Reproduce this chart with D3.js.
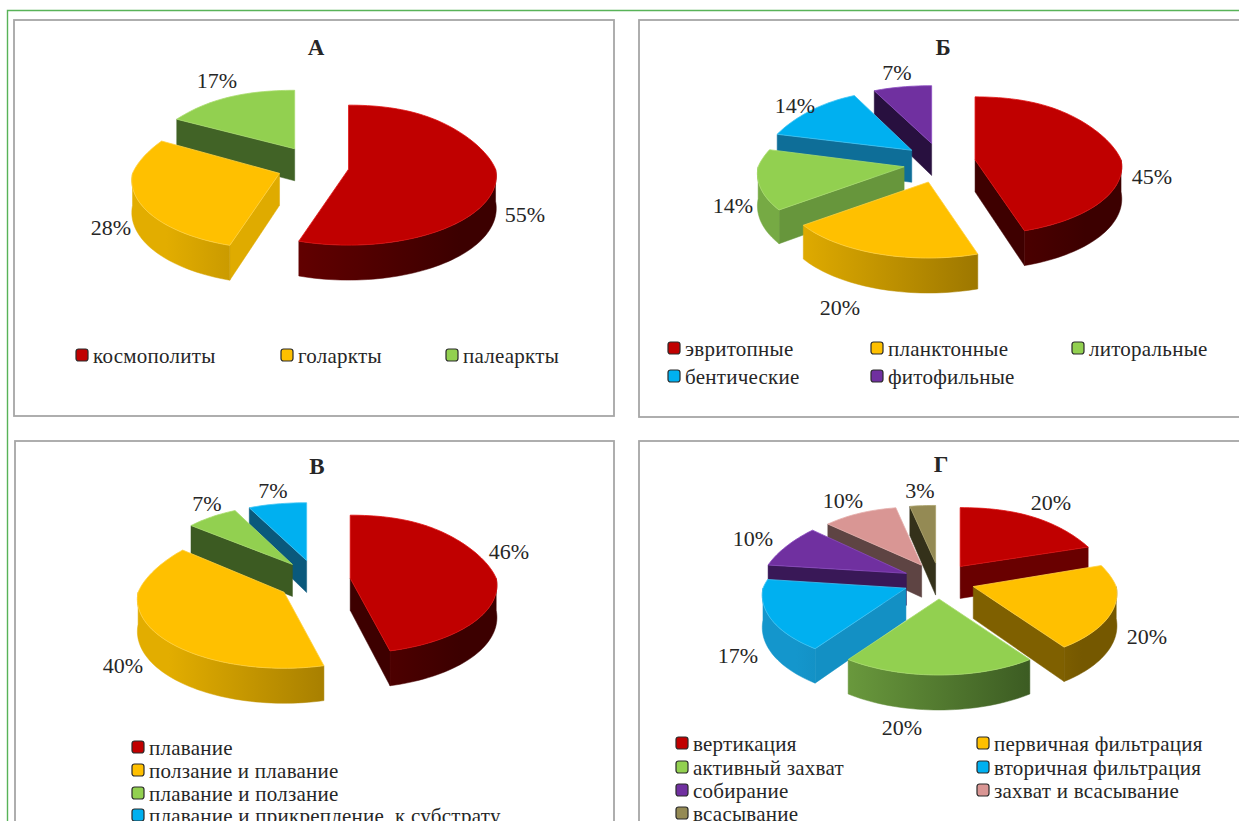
<!DOCTYPE html>
<html lang="ru">
<head>
<meta charset="utf-8">
<title>Круговые диаграммы</title>
<script src="https://cdn.jsdelivr.net/npm/d3@7/dist/d3.min.js"></script>
<style>
  html, body { margin: 0; padding: 0; background: #fff; overflow: hidden; }
  svg { display: block; }
  text { font-family: "Liberation Serif", "Times New Roman", serif; fill: #262626; }
</style>
</head>
<body>
<svg id="chart" width="1239" height="821"></svg>
<script>
// Category names and their percentage shares for each of the four diagrams
const namesA = ["космополиты", "голаркты", "палеаркты"];
const valuesA = [55, 28, 17];

const namesB = ["эвритопные", "планктонные", "литоральные", "бентические", "фитофильные"];
const valuesB = [45, 20, 14, 14, 7];

const namesC = ["плавание", "ползание и плавание", "плавание и ползание", "плавание и прикрепление  к субстрату"];
const valuesC = [46, 40, 7, 7];

const namesD = ["вертикация", "первичная фильтрация", "активный захват", "вторичная фильтрация",
                "собирание", "захват и всасывание", "всасывание"];
const valuesD = [20, 20, 20, 17, 10, 10, 3];

// Slice palette: top face, lit wall, shaded wall, rim highlight
const topColors   = ["#C00000", "#FFC000", "#92D050", "#00B0F0", "#7030A0", "#D99694", "#948A54"];
const litColors   = ["#800000", "#e2ad00", "#76aa44", "#1496cc", "#51247a", "#9c6f6d", "#7c7346"];
const shadeColors = ["#3c0000", "#755800", "#2f4a1b", "#0a5678", "#260f3c", "#523c3b", "#33301a"];
const edgeColors  = ["#e01010", "#ffd040", "#a8dc6c", "#40c4f4", "#8a4ac0", "#e4aeac", "#aba26c"];

// Placement of each diagram on the page
const panels = [
  { title: "А", names: namesA, values: valuesA, box: [14, 20, 600, 396], titleAt: [316, 47],
    cx: 313, cy: 166, rx: 147, liftY: 20,
    labels: [[525, 214], [111, 227], [217, 80]],
    legend: [[76, 355], [281, 355], [446, 355]] },
  { title: "Б", names: namesB, values: valuesB, box: [639, 20, 640, 397], titleAt: [943, 47],
    cx: 939.5, cy: 163, rx: 146, liftY: 20,
    labels: [[1152, 176], [840, 307], [733, 205], [795, 105], [897, 72]],
    legend: [[668, 348], [871, 348], [1072, 348], [668, 376], [871, 376]] },
  { title: "В", names: namesC, values: valuesC, box: [15, 441, 599, 420], titleAt: [317, 466],
    cx: 314.5, cy: 581, rx: 146, liftY: 21,
    labels: [[509, 551], [123, 665], [207, 503], [273, 490]],
    legend: [[132, 747], [132, 770], [132, 793], [132, 815]] },
  { title: "Г", names: namesD, values: valuesD, box: [639, 441, 640, 420], titleAt: [941, 464],
    cx: 939, cy: 581, rx: 143, liftY: 18,
    labels: [[1051, 502], [1147, 636], [902, 727], [738, 655], [753, 538], [843, 500], [920, 490]],
    legend: [[676, 743], [977, 743], [676, 767], [977, 767], [676, 790], [977, 790], [676, 813]] }
];

// Shared projection parameters of the tilted pies
const explodeX = 36, midRy = 70, ryBulge = 6, rySlant = 0.1, widenNear = 0.1, narrowFar = 0.2, baseDepth = 32, depthGrow = 3;

const svg = d3.select("#chart");
const defs = svg.append("defs");

// Frame running along the top and left of the figure
svg.append("path")
  .attr("d", "M1239,10.5H7.5V821")
  .attr("fill", "none").attr("stroke", "#58b358").attr("stroke-width", 1.4);

const pieLayout = d3.pie().sort(null).value(d => d);
const lineGen = d3.line();
const faceShade = d3.scaleLinear().domain([-1, 1]).range([0, 1]);

panels.forEach((panel, panelIndex) => {
  const g = svg.append("g");

  g.append("rect")
    .attr("x", panel.box[0]).attr("y", panel.box[1])
    .attr("width", panel.box[2]).attr("height", panel.box[3])
    .attr("fill", "#fff").attr("stroke", "#a6a6a6").attr("stroke-width", 1.8);

  g.append("text")
    .attr("x", panel.titleAt[0]).attr("y", panel.titleAt[1])
    .attr("text-anchor", "middle").attr("dominant-baseline", "central")
    .attr("font-size", 23).attr("font-weight", "bold").attr("fill", "#111")
    .text(panel.title);

  const arcs = pieLayout(panel.values);

  // Wall gradients run across the whole pie, lighter on the left
  arcs.forEach((a, i) => {
    const grad = defs.append("linearGradient")
      .attr("id", `wall-${panelIndex}-${i}`)
      .attr("gradientUnits", "userSpaceOnUse")
      .attr("x1", panel.cx - panel.rx).attr("x2", panel.cx + panel.rx)
      .attr("y1", 0).attr("y2", 0);
    grad.append("stop").attr("offset", 0).attr("stop-color", litColors[i]);
    grad.append("stop").attr("offset", 1).attr("stop-color", shadeColors[i]);
  });

  const slices = arcs.map((a, i) => {
    const mid = (a.startAngle + a.endAngle) / 2;
    const apex = [panel.cx + explodeX * Math.sin(mid), panel.cy - panel.liftY * Math.cos(mid)];
    return { a, i, apex, near: -Math.cos(mid) };
  }).sort((p, q) => p.apex[1] - q.apex[1]);

  slices.forEach(({ a, i, apex, near }) => {
    const rim = t => {
      const v = -Math.cos(t), u = Math.sin(t);
      const spread = v > 0 ? 1 + widenNear * v : 1 + narrowFar * v * Math.abs(u);
      return [
        apex[0] + panel.rx * u * spread,
        apex[1] + v * (midRy + ryBulge * v) * (1 + rySlant * Math.min(near, 0))
      ];
    };
    const drop = (p, v) => [p[0], p[1] + baseDepth + depthGrow * v];
    const steps = Math.max(6, Math.ceil((a.endAngle - a.startAngle) * 30));
    const arcPts = d3.range(steps + 1).map(k => rim(a.startAngle + (a.endAngle - a.startAngle) * k / steps));
    const sliceG = g.append("g");

    // Cut walls that face the viewer
    const cut = (angle, normalX) => {
      const p = rim(angle), v = -Math.cos(angle);
      const color = d3.interpolateRgb(shadeColors[i], litColors[i])(faceShade(normalX));
      sliceG.append("path")
        .attr("d", lineGen([apex, p, drop(p, v), drop(apex, 0)]) + "Z")
        .attr("fill", color).attr("stroke", color).attr("stroke-width", 0.5);
    };
    if (Math.sin(a.startAngle) < -1e-6) cut(a.startAngle, -Math.cos(a.startAngle));
    if (Math.sin(a.endAngle) > 1e-6) cut(a.endAngle, Math.cos(a.endAngle));

    // Curved outer wall: only the part on the near half of the rim
    const from = Math.max(a.startAngle, Math.PI / 2), to = Math.min(a.endAngle, 3 * Math.PI / 2);
    if (to > from) {
      const n = Math.ceil((to - from) * 30);
      const upper = d3.range(n + 1).map(k => from + (to - from) * k / n);
      const pts = upper.map(rim).concat(upper.slice().reverse().map(t => drop(rim(t), -Math.cos(t))));
      sliceG.append("path")
        .attr("d", lineGen(pts) + "Z")
        .attr("fill", `url(#wall-${panelIndex}-${i})`)
        .attr("stroke", `url(#wall-${panelIndex}-${i})`).attr("stroke-width", 0.5);
    }

    // Top face
    sliceG.append("path")
      .attr("d", lineGen([apex].concat(arcPts)) + "Z")
      .attr("fill", topColors[i]).attr("stroke", edgeColors[i]).attr("stroke-width", 0.8);
  });

  // Percentage labels
  g.selectAll("text.value").data(panel.values).enter().append("text")
    .attr("class", "value")
    .attr("x", (d, i) => panel.labels[i][0]).attr("y", (d, i) => panel.labels[i][1])
    .attr("text-anchor", "middle").attr("dominant-baseline", "central")
    .attr("font-size", 22)
    .text(d => d + "%");

  // Legend entries
  const entry = g.selectAll("g.entry").data(panel.names).enter().append("g")
    .attr("class", "entry")
    .attr("transform", (d, i) => `translate(${panel.legend[i][0]},${panel.legend[i][1]})`);
  entry.append("rect")
    .attr("x", 0).attr("y", -6).attr("width", 12).attr("height", 12).attr("rx", 2.5)
    .attr("fill", (d, i) => topColors[i]).attr("stroke", "#2a2a2a").attr("stroke-width", 1.2);
  entry.append("text")
    .attr("x", 17).attr("y", 1).attr("dominant-baseline", "central")
    .attr("font-size", 21).attr("letter-spacing", 0.25).attr("xml:space", "preserve")
    .text(d => d);
});
</script>
</body>
</html>
